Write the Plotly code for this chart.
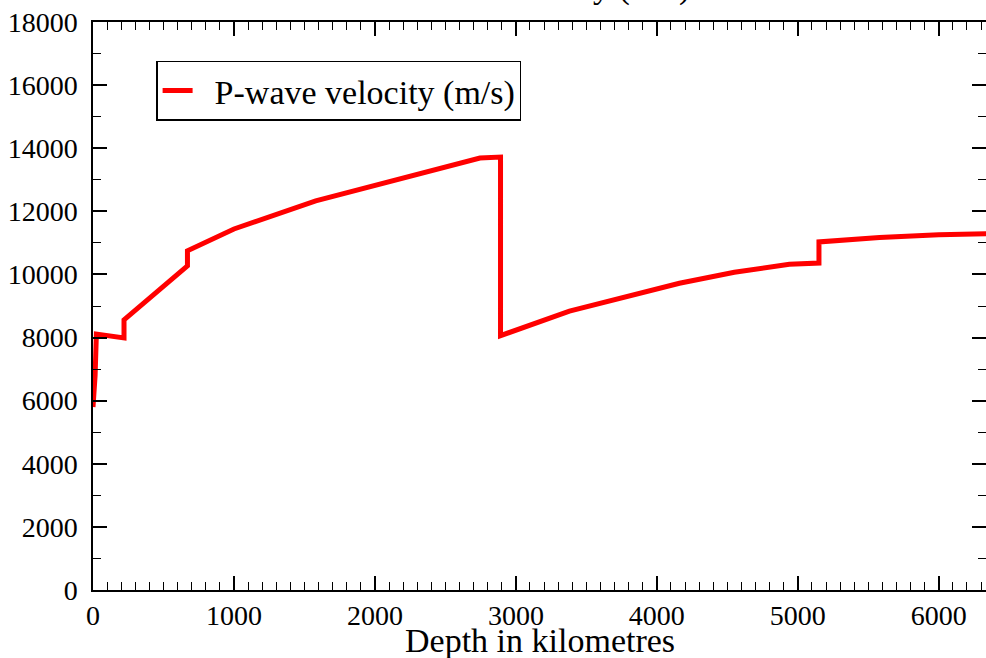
import plotly.graph_objects as go

depth_km = [0, 15, 24, 220, 220, 670, 670, 1000, 1580, 2180, 2580, 2745, 2891, 2891,
            3380, 3785, 4160, 4550, 4940, 5150, 5150, 5580, 6000, 6371]
vp_ms = [5800, 6800, 8110, 7990, 8560, 10270, 10750, 11440, 12330, 13030, 13470, 13690, 13720, 8060,
         8840, 9310, 9720, 10070, 10320, 10360, 11030, 11170, 11260, 11290]

x_ticks = [0, 1000, 2000, 3000, 4000, 5000, 6000]
y_ticks = [0, 2000, 4000, 6000, 8000, 10000, 12000, 14000, 16000, 18000]

FONT = "Liberation Serif"
series_name = "P-wave velocity (m/s)"
x_title = "Depth in kilometres"

fig = go.Figure()
fig.add_trace(go.Scatter(
    x=depth_km, y=vp_ms, mode="lines",
    line=dict(color="#ff0000", width=5),
    name="\u00a0\u00a0" + series_name,
))

axis_common = dict(
    showline=True, linecolor="black", linewidth=1.5, mirror="allticks",
    ticks="inside", ticklen=14, tickwidth=1.5, tickcolor="black",
    showgrid=False, zeroline=False, automargin=False,
    tickfont=dict(family=FONT, size=28, color="black"),
)

fig.update_xaxes(
    range=[0, 6335], tickvals=x_ticks, ticktext=[str(v) for v in x_ticks],
    minor=dict(dtick=100, ticks="inside", ticklen=8, tickwidth=1.2, tickcolor="black", showgrid=False),
    ticklabelstandoff=0,
    **axis_common,
)
fig.update_yaxes(
    range=[0, 18000], tickvals=y_ticks, ticktext=[str(v) for v in y_ticks],
    minor=dict(dtick=1000, ticks="inside", ticklen=8, tickwidth=1.2, tickcolor="black", showgrid=False),
    ticklabelstandoff=8,
    **axis_common,
)

# x-axis title
fig.add_annotation(
    text=x_title, xref="paper", yref="paper", x=0.5, y=-0.089,
    xanchor="center", yanchor="middle", showarrow=False,
    font=dict(family=FONT, size=34, color="black"),
)
# chart title (cut off at the top edge as in the original)
fig.add_annotation(
    text=series_name, xref="paper", yref="paper", x=0.5, y=1.025,
    xanchor="center", yanchor="bottom", showarrow=False,
    font=dict(family=FONT, size=34, color="black"),
)

fig.update_layout(
    width=986, height=658,
    margin=dict(l=93, r=0, t=22, b=68, autoexpand=False),
    paper_bgcolor="white", plot_bgcolor="white",
    showlegend=True,
    legend=dict(
        x=0.071, y=0.932, xanchor="left", yanchor="top",
        bgcolor="white", bordercolor="black", borderwidth=1.2,
        font=dict(family=FONT, size=34, color="black"),
    ),
)

fig.write_html(
    "out.html",
    config={"displayModeBar": False},
    post_script="document.body.style.margin='0';document.body.style.overflow='hidden';",
)
